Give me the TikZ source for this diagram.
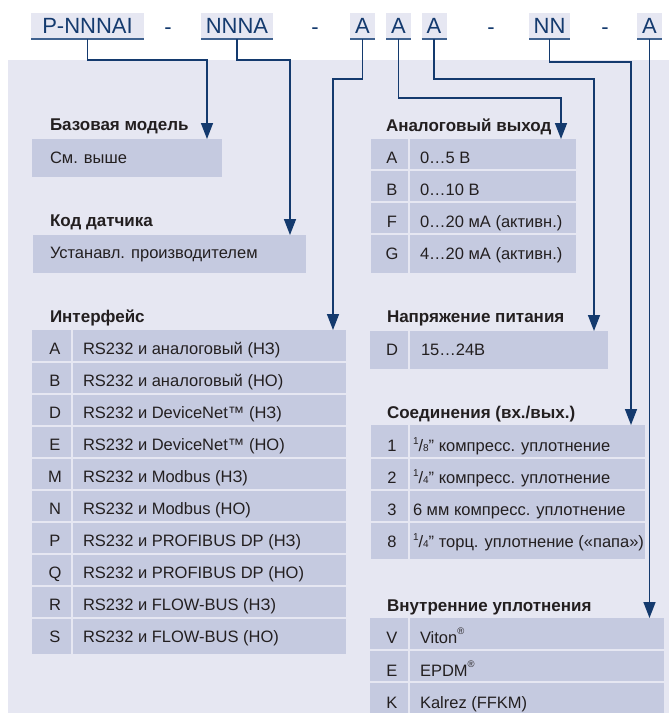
\documentclass[tikz,border=0pt]{standalone}
\usepackage{fontspec}
\setmainfont{Liberation Sans}
\usetikzlibrary{arrows.meta}
\definecolor{panel}{RGB}{230,231,242}
\definecolor{cell}{RGB}{197,202,224}
\definecolor{navy}{RGB}{20,58,110}
\definecolor{uline}{RGB}{64,98,143}
\definecolor{ink}{RGB}{35,31,32}
\newcommand{\hdrfont}{\fontsize{22}{22}\selectfont}
\newcommand{\ttlfont}{\fontsize{17}{19}\selectfont\bfseries}
\newcommand{\bodyfont}{\fontsize{16.5}{18}\selectfont}
\newcommand{\frc}[2]{\raisebox{0.42em}{\fontsize{10}{10}\selectfont #1}/\raisebox{-0.05em}{\fontsize{10}{10}\selectfont #2}”}
\newcommand{\reg}{\raisebox{0.5em}{\fontsize{9.5}{9.5}\selectfont ®}}
\begin{document}
\begin{tikzpicture}[x=1pt,y=-1pt,
  every node/.style={inner sep=0pt, outer sep=0pt},
  hdr/.style={fill=panel, text=navy, font=\hdrfont, minimum height=26pt, text height=15.5pt, text depth=0pt},
  hline/.style={draw=uline, line width=2pt},
  hsep/.style={text=navy, font=\hdrfont, anchor=base},
  ttl/.style={font=\ttlfont, text=ink, anchor=base west},
  cellbox/.style={fill=cell, anchor=north west},
  sepline/.style={draw=panel, line width=1.5pt},
  lett/.style={font=\bodyfont, text=ink, anchor=base},
  rowt/.style={font=\bodyfont, text=ink, anchor=base west},
  conn/.style={draw=navy, line width=1.5pt},
  tip/.style={-{Triangle[width=12pt,length=16pt]}}
]
\useasboundingbox (0,0) rectangle (669,713);
% background panel
\node[fill=panel, minimum width=661pt, minimum height=653pt, anchor=north west] (panel) at (8,60) {};

% header code
\node[hdr, minimum width=113pt] (hP) at (87.5,26) {P-NNNAI};
\node[hdr, minimum width=72pt] (hN) at (237,26) {NNNA};
\node[hdr, minimum width=25pt] (hA1) at (362.5,26) {A};
\node[hdr, minimum width=25pt] (hA2) at (398.5,26) {A};
\node[hdr, minimum width=25pt] (hA3) at (434,26) {A};
\node[hdr, minimum width=41pt] (hNN) at (549.5,26) {NN};
\node[hdr, minimum width=25pt] (hA4) at (649.5,26) {A};
\foreach \h in {hP,hN,hA1,hA2,hA3,hNN,hA4}
  \draw[hline] (\h.south west) -- (\h.south east);
\node[hsep] (d1) at (168,34) {-};
\node[hsep] (d2) at (315,34) {-};
\node[hsep] (d3) at (491,34) {-};
\node[hsep] (d4) at (605,34) {-};

% titles
\node[ttl] (tBase) at (50,130) {Базовая модель};
\node[ttl] (tKod) at (50,226) {Код датчика};
\node[ttl] (tInt) at (50,322) {Интерфейс};
\node[ttl] (tAn) at (386,131) {Аналоговый выход};
\node[ttl] (tPit) at (387,322) {Напряжение питания};
\node[ttl] (tSoed) at (387,418) {Соединения (вх./вых.)};
\node[ttl] (tVn) at (387,611) {Внутренние уплотнения};

% Базовая модель
\node[cellbox, minimum width=190pt, minimum height=38pt] (bBox) at (32,139) {};
\node[rowt] (bTxt) at (50,163) {См. выше};
% Код датчика
\node[cellbox, minimum width=273pt, minimum height=38pt] (kBox) at (33,235) {};
\node[rowt] (kTxt) at (50,258) {Устанавл. производителем};

% Интерфейс
\node[cellbox, minimum width=314pt, minimum height=324pt] (iBox) at (32,330) {};
\foreach \k in {1,...,9}
  \draw[sepline] (32,{330+32*\k}) -- (346,{330+32*\k});
\draw[sepline] (72,330) -- (72,654);
\foreach \L/\T [count=\k from 0] in {
  A/RS232 и аналоговый (НЗ),
  B/RS232 и аналоговый (НО),
  D/RS232 и DeviceNet™ (НЗ),
  E/RS232 и DeviceNet™ (НО),
  M/RS232 и Modbus (НЗ),
  N/RS232 и Modbus (НО),
  P/RS232 и PROFIBUS DP (НЗ),
  Q/RS232 и PROFIBUS DP (НО),
  R/RS232 и FLOW-BUS (НЗ),
  S/RS232 и FLOW-BUS (НО)} {
  \node[lett] (iL\k) at (55,{354+32*\k}) {\L};
  \node[rowt] (iT\k) at (83,{354+32*\k}) {\T};
}

% Аналоговый выход
\node[cellbox, minimum width=205pt, minimum height=134pt] (aBox) at (371,139) {};
\foreach \y in {170,202,234}
  \draw[sepline] (371,\y) -- (576,\y);
\draw[sepline] (409,139) -- (409,273);
\foreach \L/\T [count=\k from 0] in {A/0…5 В, B/0…10 В, F/0…20 мА (активн.), G/4…20 мА (активн.)} {
  \node[lett] (aL\k) at (392,{163+32*\k}) {\L};
  \node[rowt] (aT\k) at (420,{163+32*\k}) {\T};
}

% Напряжение питания
\node[cellbox, minimum width=238pt, minimum height=38pt] (pBox) at (370,331) {};
\draw[sepline] (409,331) -- (409,369);
\node[lett] (pL0) at (392,355) {D};
\node[rowt] (pT0) at (421,355) {15…24В};

% Соединения
\node[cellbox, minimum width=274pt, minimum height=134pt] (sBox) at (371,425) {};
\foreach \y in {458,490,522}
  \draw[sepline] (371,\y) -- (645,\y);
\draw[sepline] (409,425) -- (409,559);
\node[lett] (sL0) at (392,451) {1};
\node[rowt] (sT0) at (413,451) {\frc{1}{8} компресс. уплотнение};
\node[lett] (sL1) at (392,483) {2};
\node[rowt] (sT1) at (413,483) {\frc{1}{4} компресс. уплотнение};
\node[lett] (sL2) at (392,515) {3};
\node[rowt] (sT2) at (413,515) {6 мм компресс. уплотнение};
\node[lett] (sL3) at (392,547) {8};
\node[rowt] (sT3) at (413,547) {\frc{1}{4} торц. уплотнение («папа»)};

% Внутренние уплотнения
\node[cellbox, minimum width=294pt, minimum height=95pt] (vBox) at (370,618) {};
\foreach \y in {650,682}
  \draw[sepline] (370,\y) -- (664,\y);
\draw[sepline] (409,618) -- (409,713);
\node[lett] (vL0) at (392,643) {V};
\node[rowt] (vT0) at (420,643) {Viton\reg};
\node[lett] (vL1) at (392,676) {E};
\node[rowt] (vT1) at (420,676) {EPDM\reg};
\node[lett] (vL2) at (392,708) {K};
\node[rowt] (vT2) at (420,708) {Kalrez (FFKM)};

% arrow targets
\coordinate (aBaseT) at (207,139);
\coordinate (aKodT) at (290,235);
\coordinate (aIntT) at (333,330);
\coordinate (aAnT) at (561,139);
\coordinate (aPitT) at (594,331);
\coordinate (aSoedT) at (631,425);
\coordinate (aVnT) at (650,618);

% connectors
\draw[conn, tip] (hP.south) -- ++(0,21) -| (aBaseT);
\draw[conn, tip] (hN.south) -- ++(0,21) -| (aKodT);
\draw[conn, tip] (hA1.south) -- ++(0,40) -| (aIntT);
\draw[conn, tip] (hA2.south) -- ++(0,59) -| (aAnT);
\draw[conn, tip] (hA3.south) -- ++(0,40) -| (aPitT);
\draw[conn, tip] (hNN.south) -- ++(0,23) -| (aSoedT);
\draw[conn, tip] (hA4.south) -- (hA4.south |- aVnT);
\end{tikzpicture}
\end{document}
